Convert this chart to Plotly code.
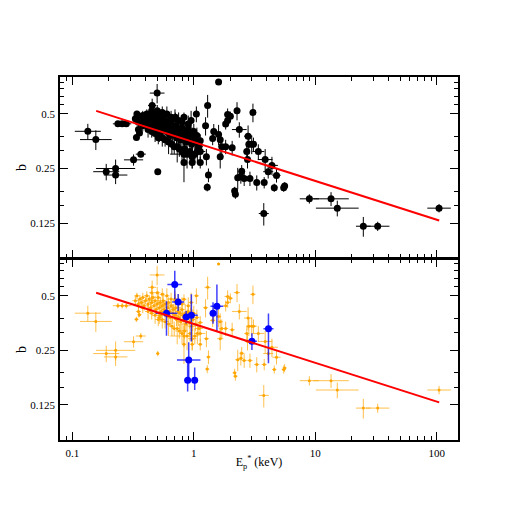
import plotly.graph_objects as go

# ---------------- data ----------------
# black sample (top panel) -- also drawn in orange in bottom panel
bx = [
    # sparse, low energy
    0.134, 0.156, 0.190, 0.227, 0.227, 0.237, 0.257, 0.278, 0.319, 0.366,
    0.357, 0.337, 0.499, 0.454, 0.505,
    # around 1 keV, scattered
    1.60, 1.30, 1.05, 1.90, 0.83, 0.705, 1.25, 1.46, 1.60, 1.70,
    1.65, 1.32, 1.29, 0.83, 0.97, 1.13, 0.83, 1.13, 1.43, 1.65,
    1.13, 1.27,
    # 2-6 keV and high energy
    2.27, 3.07, 2.00, 1.90, 1.83, 2.37, 2.07, 1.83, 2.80, 2.84,
    3.00, 3.10, 2.73, 2.77, 3.40, 3.87, 4.40, 4.10, 4.80, 2.48,
    2.44, 2.30, 2.60, 2.90, 3.30, 3.80, 4.60, 5.50, 5.60, 2.17,
    2.20, 3.77, 8.95, 13.5, 15.2, 24.9, 32.7, 104.7,
    # dense cluster 0.3 - 1.1 keV
    0.33, 0.34, 0.35, 0.36, 0.37, 0.38, 0.39, 0.40, 0.41, 0.42,
    0.43, 0.44, 0.45, 0.46, 0.47, 0.48, 0.49, 0.50, 0.51, 0.52,
    0.53, 0.54, 0.55, 0.56, 0.57, 0.58, 0.60, 0.61, 0.62, 0.63,
    0.64, 0.65, 0.67, 0.68, 0.70, 0.71, 0.72, 0.74, 0.75, 0.77,
    0.78, 0.80, 0.81, 0.83, 0.85, 0.86, 0.88, 0.90, 0.92, 0.94,
    0.96, 0.98, 1.00, 1.03, 1.06, 1.10, 0.45, 0.48, 0.52, 0.55,
    0.58, 0.62, 0.66, 0.69, 0.73, 0.76, 0.80, 0.84, 0.88, 0.93,
    0.97, 1.02, 1.07, 0.35, 0.38, 0.42, 0.55, 0.60, 0.65, 0.70,
    0.50, 0.45, 0.75, 0.80, 0.90, 0.95, 0.53, 0.51,
]
by = [
    0.401, 0.361, 0.240, 0.250, 0.230, 0.441, 0.441, 0.441, 0.279, 0.300,
    0.393, 0.371, 0.652, 0.557, 0.240,
    0.750, 0.557, 0.500, 0.496, 0.479, 0.479, 0.430, 0.400, 0.385, 0.330,
    0.290, 0.230, 0.197, 0.270, 0.270, 0.270, 0.300, 0.310, 0.366, 0.360,
    0.356, 0.290,
    0.521, 0.510, 0.485, 0.460, 0.440, 0.410, 0.325, 0.330, 0.377, 0.340,
    0.340, 0.340, 0.310, 0.280, 0.310, 0.280, 0.260, 0.240, 0.229, 0.241,
    0.226, 0.222, 0.220, 0.220, 0.209, 0.209, 0.196, 0.196, 0.200, 0.188,
    0.180, 0.141, 0.170, 0.170, 0.151, 0.120, 0.120, 0.151,
    0.47, 0.50, 0.45, 0.48, 0.46, 0.49, 0.44, 0.47, 0.50, 0.45,
    0.48, 0.43, 0.46, 0.49, 0.44, 0.47, 0.42, 0.45, 0.49, 0.43,
    0.46, 0.41, 0.44, 0.47, 0.42, 0.45, 0.40, 0.43, 0.46, 0.41,
    0.38, 0.44, 0.40, 0.42, 0.39, 0.43, 0.37, 0.41, 0.38, 0.40,
    0.36, 0.42, 0.39, 0.37, 0.40, 0.35, 0.38, 0.41, 0.36, 0.39,
    0.34, 0.37, 0.40, 0.35, 0.38, 0.33, 0.40, 0.39, 0.38, 0.37,
    0.36, 0.35, 0.34, 0.33, 0.33, 0.32, 0.31, 0.32, 0.30, 0.31,
    0.29, 0.30, 0.31, 0.41, 0.43, 0.41, 0.51, 0.50, 0.48, 0.47,
    0.52, 0.52, 0.46, 0.45, 0.44, 0.46, 0.39, 0.37,
]
# multiplicative half-width of the horizontal error bar
bfx = [
    1.28, 1.35, 1.28, 1.45, 1.25, 1.10, 1.10, 1.10, 1.20, 1.10,
    1.04, 1.04, 1.15, 1.08, 1.03,
    1.03, 1.06, 1.05, 1.06, 1.05, 1.05, 1.05, 1.05, 1.05, 1.06,
    1.06, 1.04, 1.04, 1.04, 1.04, 1.04, 1.30, 1.10, 1.05, 1.05,
    1.05, 1.05,
    1.06, 1.05, 1.05, 1.05, 1.05, 1.15, 1.05, 1.05, 1.08, 1.05,
    1.10, 1.05, 1.05, 1.05, 1.12, 1.15, 1.12, 1.10, 1.08, 1.05,
    1.05, 1.05, 1.05, 1.05, 1.05, 1.05, 1.04, 1.04, 1.04, 1.04,
    1.04, 1.10, 1.20, 1.40, 1.50, 1.15, 1.25, 1.25,
    1.06, 1.05, 1.08, 1.05, 1.06, 1.05, 1.10, 1.05, 1.06, 1.05,
    1.08, 1.05, 1.06, 1.05, 1.05, 1.12, 1.05, 1.06, 1.05, 1.05,
    1.08, 1.05, 1.06, 1.05, 1.05, 1.10, 1.05, 1.06, 1.05, 1.05,
    1.08, 1.05, 1.06, 1.05, 1.05, 1.10, 1.05, 1.06, 1.05, 1.05,
    1.08, 1.05, 1.06, 1.05, 1.05, 1.10, 1.05, 1.06, 1.05, 1.05,
    1.08, 1.05, 1.06, 1.05, 1.05, 1.08, 1.05, 1.06, 1.05, 1.05,
    1.08, 1.05, 1.06, 1.05, 1.05, 1.08, 1.05, 1.06, 1.05, 1.05,
    1.08, 1.05, 1.06, 1.05, 1.05, 1.06, 1.05, 1.05, 1.08, 1.05,
    1.06, 1.05, 1.05, 1.06, 1.05, 1.05, 1.05, 1.06,
]
bey = [
    0.040, 0.045, 0.025, 0.030, 0.025, 0.015, 0.015, 0.015, 0.020, 0.012,
    0.012, 0.012, 0.080, 0.050, 0.008,
    0.010, 0.080, 0.050, 0.040, 0.030, 0.030, 0.050, 0.040, 0.050, 0.040,
    0.040, 0.020, 0.010, 0.060, 0.020, 0.020, 0.040, 0.030, 0.030, 0.040,
    0.030, 0.030,
    0.060, 0.060, 0.030, 0.030, 0.030, 0.040, 0.030, 0.030, 0.055, 0.040,
    0.040, 0.030, 0.030, 0.030, 0.030, 0.040, 0.030, 0.020, 0.020, 0.020,
    0.020, 0.030, 0.020, 0.020, 0.020, 0.015, 0.010, 0.010, 0.010, 0.010,
    0.010, 0.020, 0.010, 0.015, 0.015, 0.015, 0.007, 0.008,
    0.03, 0.02, 0.03, 0.025, 0.02, 0.03, 0.025, 0.02, 0.03, 0.025,
    0.02, 0.03, 0.04, 0.03, 0.02, 0.03, 0.025, 0.03, 0.04, 0.02,
    0.03, 0.03, 0.025, 0.05, 0.03, 0.02, 0.04, 0.03, 0.03, 0.02,
    0.04, 0.03, 0.05, 0.03, 0.02, 0.04, 0.03, 0.03, 0.04, 0.03,
    0.05, 0.03, 0.03, 0.04, 0.05, 0.03, 0.04, 0.03, 0.03, 0.04,
    0.03, 0.05, 0.04, 0.03, 0.04, 0.03, 0.03, 0.04, 0.03, 0.04,
    0.03, 0.05, 0.04, 0.03, 0.06, 0.03, 0.04, 0.03, 0.05, 0.03,
    0.04, 0.03, 0.04, 0.03, 0.03, 0.04, 0.04, 0.05, 0.04, 0.06,
    0.04, 0.05, 0.05, 0.04, 0.05, 0.06, 0.03, 0.03,
]

# blue sample (bottom panel)
ux = [0.697, 0.743, 0.596, 0.865, 0.955, 1.44, 1.55, 0.908, 0.89, 1.017, 3.01, 4.12]
uy = [0.578, 0.462, 0.401, 0.382, 0.390, 0.401, 0.438, 0.221, 0.171, 0.171, 0.281, 0.329]
ufx = [1.15, 1.12, 1.23, 1.07, 1.13, 1.06, 1.13, 1.25, 1.06, 1.06, 1.10, 1.10]
uey_lo = [0.100, 0.050, 0.100, 0.030, 0.110, 0.050, 0.120, 0.050, 0.023, 0.020, 0.030, 0.117]
uey_hi = [0.110, 0.050, 0.065, 0.030, 0.120, 0.060, 0.140, 0.056, 0.044, 0.030, 0.030, 0.070]

# best-fit power law (end points)
fit_x = [0.157, 105.0]
fit_y = [0.52, 0.129]

x_ticks = [0.1, 1, 10, 100]
x_ticktext = ["0.1", "1", "10", "100"]
x_minor = [0.09, 0.2, 0.3, 0.4, 0.5, 0.6, 0.7, 0.8, 0.9,
           2, 3, 4, 5, 6, 7, 8, 9, 20, 30, 40, 50, 60, 70, 80, 90]
y_ticks = [0.125, 0.25, 0.5]
y_ticktext = ["0.125", "0.25", "0.5"]
y_minor = [0.15625, 0.1875, 0.3125, 0.375, 0.5625, 0.625, 0.6875, 0.75]

# ---------------- helpers ----------------
def xerr(xs, fs):
    plus = [x * (f - 1) for x, f in zip(xs, fs)]
    minus = [x * (1 - 1 / f) for x, f in zip(xs, fs)]
    return plus, minus

bxp, bxm = xerr(bx, bfx)
uxp, uxm = xerr(ux, ufx)

fig = go.Figure()

# top panel: black points
fig.add_trace(go.Scatter(
    x=bx, y=by, xaxis="x2", yaxis="y2", mode="markers",
    marker=dict(color="black", size=7),
    error_x=dict(type="data", array=bxp, arrayminus=bxm, symmetric=False,
                 color="black", thickness=1, width=0),
    error_y=dict(type="data", array=bey, color="black", thickness=1, width=0),
    showlegend=False, hoverinfo="skip"))
fig.add_trace(go.Scatter(
    x=fit_x, y=fit_y, xaxis="x2", yaxis="y2", mode="lines",
    line=dict(color="#ff0000", width=2), showlegend=False, hoverinfo="skip"))

# bottom panel: orange sample, blue sample
fig.add_trace(go.Scatter(
    x=bx, y=by, xaxis="x", yaxis="y", mode="markers",
    marker=dict(color="#ffa500", size=3),
    error_x=dict(type="data", array=bxp, arrayminus=bxm, symmetric=False,
                 color="rgba(255,165,0,0.7)", thickness=1, width=0),
    error_y=dict(type="data", array=bey, color="rgba(255,165,0,0.7)",
                 thickness=1, width=0),
    showlegend=False, hoverinfo="skip"))
fig.add_trace(go.Scatter(
    x=ux, y=uy, xaxis="x", yaxis="y", mode="markers",
    marker=dict(color="#0000ff", size=7),
    error_x=dict(type="data", array=uxp, arrayminus=uxm, symmetric=False,
                 color="rgba(0,0,255,0.75)", thickness=1.5, width=0),
    error_y=dict(type="data", array=uey_hi, arrayminus=uey_lo, symmetric=False,
                 color="rgba(0,0,255,0.75)", thickness=1.5, width=0),
    showlegend=False, hoverinfo="skip"))
fig.add_trace(go.Scatter(
    x=fit_x, y=fit_y, xaxis="x", yaxis="y", mode="lines",
    line=dict(color="#ff0000", width=2), showlegend=False, hoverinfo="skip"))

font = "Liberation Serif, Times New Roman, serif"
xrange = [-1.102, 2.176]
yrange = [-1.097, -0.097]

common_x = dict(
    type="log", range=xrange, tickmode="array", tickvals=x_ticks,
    ticks="inside", ticklen=8, tickwidth=1, tickcolor="black",
    minor=dict(tickmode="array", tickvals=x_minor, ticks="inside",
               ticklen=4, tickwidth=1, tickcolor="black", showgrid=False),
    showline=True, linecolor="black", linewidth=1.5, mirror="ticks",
    showgrid=False, zeroline=False,
    tickfont=dict(family=font, size=11, color="black"),
)
common_y = dict(
    type="log", range=yrange, tickmode="array", tickvals=y_ticks,
    ticktext=y_ticktext,
    ticks="inside", ticklen=8, tickwidth=1, tickcolor="black",
    minor=dict(tickmode="array", tickvals=y_minor, ticks="inside",
               ticklen=4, tickwidth=1, tickcolor="black", showgrid=False),
    showline=True, linecolor="black", linewidth=1.5, mirror="ticks",
    showgrid=False, zeroline=False,
    tickfont=dict(family=font, size=11, color="black"),
    ticklabelstandoff=1,
    title=dict(text="b", font=dict(family=font, size=14, color="black"),
               standoff=0),
)

# the page body adds an 8px offset, so margins are shifted accordingly
fig.update_layout(
    width=518, height=518,
    margin=dict(l=52, r=68, t=69, b=86),
    paper_bgcolor="white", plot_bgcolor="white",
    font=dict(family=font, color="black"),
    xaxis=dict(common_x, domain=[0, 1], anchor="y", ticktext=x_ticktext,
               ticklabelstandoff=2,
               title=dict(text="E<sub>p</sub><sup>*</sup> (keV)",
                          font=dict(family=font, size=12, color="black"),
                          standoff=0)),
    xaxis2=dict(common_x, domain=[0, 1], anchor="y2", matches="x",
                showticklabels=False),
    yaxis=dict(common_y, domain=[0, 0.499], anchor="x"),
    yaxis2=dict(common_y, domain=[0.501, 1], anchor="x2"),
)

fig.write_html("out.html")
